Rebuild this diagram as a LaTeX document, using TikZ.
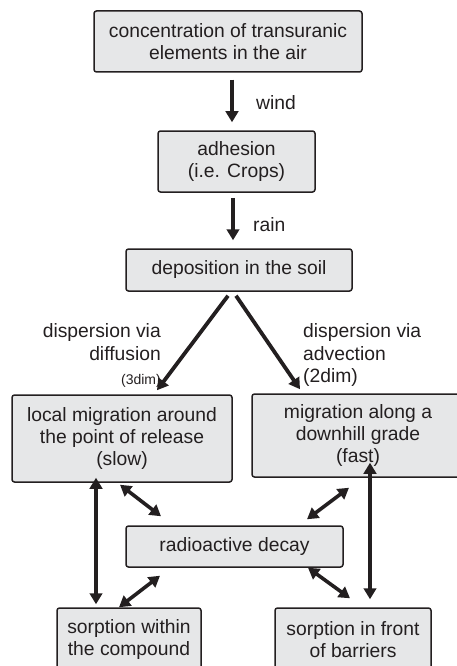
\documentclass[tikz,border=0pt]{standalone}
\usepackage{fontspec}
\setmainfont{Liberation Sans}
\usetikzlibrary{arrows.meta,calc}
\definecolor{boxfill}{HTML}{E6E7E8}
\definecolor{ink}{HTML}{231F20}
\begin{document}
\begin{tikzpicture}[x=1pt,y=-1pt,
  box/.style={draw=ink,line width=1.5pt,fill=boxfill,rounded corners=2.5pt,inner sep=0pt,align=center,
    font=\fontsize{19.3}{22}\selectfont,text=ink},
  lbl/.style={inner sep=0pt,font=\fontsize{19.3}{22}\selectfont,text=ink},
  slbl/.style={inner sep=0pt,font=\fontsize{14}{16}\selectfont,text=ink},
  arr/.style={draw=ink,line width=3.8pt,-{Triangle[length=11pt,width=12.5pt]}},
  dbl/.style={draw=ink,line width=3.6pt,{Triangle[length=11pt,width=12.5pt]}-{Triangle[length=11pt,width=12.5pt]}}]
\useasboundingbox (0,0) rectangle (457,666);
\clip (0,0) rectangle (457,666);
\node[box,minimum width=268pt,minimum height=61pt] (box1) at (228,41.5) {concentration of transuranic\\elements in the air};
\node[box,minimum width=157pt,minimum height=61pt] (box2) at (236.5,161.5) {adhesion\\(i.e. Crops)};
\node[box,minimum width=226pt,minimum height=42pt] (box3) at (239,270) {deposition in the soil};
\node[box,minimum width=220pt,minimum height=87pt] (box4) at (122,438.5) {local migration around\\the point of release\\(slow)};
\node[box,minimum width=212pt,minimum height=83pt] (box5) at (358,435.5) {migration along a\\downhill grade\\(fast)};
\node[box,minimum width=217pt,minimum height=41pt] (decay) at (234.5,546.5) {radioactive decay};
\node[box,minimum width=144pt,minimum height=64pt] (sorp1) at (129,640) {sorption within\\the compound};
\node[box,minimum width=156pt,minimum height=64pt] (sorp2) at (353,640) {sorption in front\\of barriers};

\node[lbl,anchor=west] (wind) at (256,103) {wind};
\node[lbl,anchor=west] (rain) at (253,225) {rain};
\node[lbl,anchor=base east] (l1) at (161,337) {dispersion via};
\node[lbl,anchor=base east] (l2) at (161,360) {diffusion};
\node[slbl,anchor=base east] (l3) at (161,384) {(3dim)};
\node[lbl,anchor=base west] (r1) at (303,337) {dispersion via};
\node[lbl,anchor=base west] (r2) at (303,360) {advection};
\node[lbl,anchor=base west] (r3) at (303,382) {(2dim)};

\draw[arr] ($(box1.south)+(4,7)$) -- ($(box2.north)+(-4.5,-8)$);
\draw[arr] ($(box2.south)+(-3.5,5)$) -- ($(box3.north)+(-6,-8)$);
\draw[arr] ($(box3.south)+(-11,4)$) -- ($(box4.north)+(35,-4)$);
\draw[arr] ($(box3.south)+(-3,4)$) -- ($(box5.north)+(-58,-4)$);
\draw[dbl] ($(box4.south)+(-26,-5)$) -- ($(sorp1.north)+(-33,-3)$);
\draw[dbl] ($(box4.south)+(-2,2)$) -- ($(decay.north)+(-73.5,-9)$);
\draw[dbl] ($(decay.south)+(-74.5,8)$) -- ($(sorp1.north)+(-10,0)$);
\draw[dbl] ($(box5.south)+(-9,10)$) -- ($(decay.north)+(72.5,-6)$);
\draw[dbl] ($(decay.south)+(73.5,0)$) -- ($(sorp2.north)+(-3,-9)$);
\draw[dbl] ($(box5.south)+(12,-15)$) -- ($(sorp2.north)+(17,-8)$);
\end{tikzpicture}
\end{document}
